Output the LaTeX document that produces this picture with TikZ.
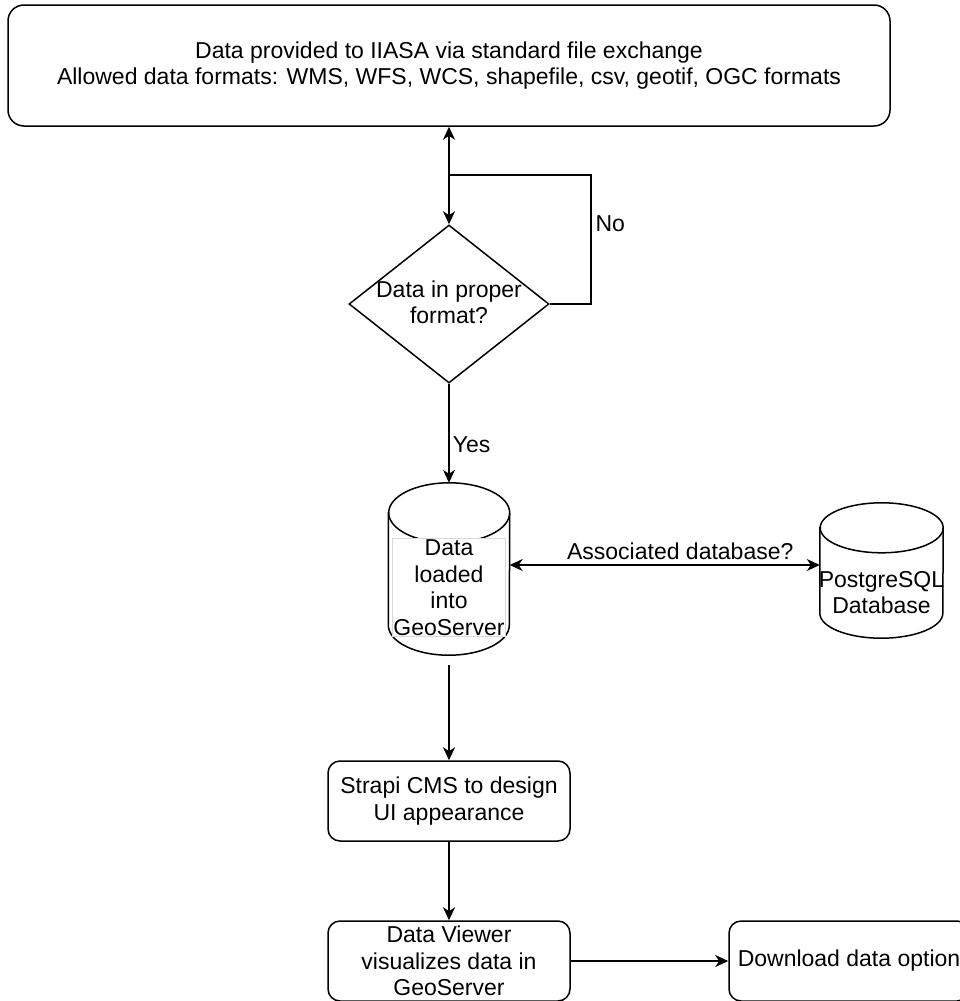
\documentclass[tikz,border=0pt]{standalone}
\usepackage{fontspec}
\setmainfont{Liberation Sans}
\usetikzlibrary{shapes.geometric,arrows.meta,positioning,backgrounds}

\tikzset{
    base/.style={draw, line width=1.5pt, font=\fontsize{23}{26.5}\selectfont, align=center},
    procbox/.style={base, rounded corners=12pt, minimum width=242pt, minimum height=80pt, inner sep=2pt},
    decision/.style={base, diamond, minimum width=200pt, minimum height=158pt, inner sep=0pt},
    dbase/.style={inner sep=0pt},
    txt/.style={font=\fontsize{23}{26.5}\selectfont, align=center, inner sep=1pt},
    line/.style={line width=1.5pt},
    flow/.style={line, -{Stealth[length=13pt,width=12pt,inset=4pt]}},
    twoway/.style={line, {Stealth[length=13pt,width=12pt,inset=4pt]}-{Stealth[length=13pt,width=12pt,inset=4pt]}}
}

% cylinder outline round a node: name, x radius, y radius
\newcommand{\drawdb}[3]{%
    \draw[line, fill=white] ([yshift=-#3]#1.north west) -- ([yshift=#3]#1.south west) arc (180:360:#2 and #3)
        -- ([yshift=-#3]#1.north east) arc (0:180:#2 and #3) -- cycle;
    \draw[line] ([yshift=-#3]#1.north east) arc (0:-180:#2 and #3);
}

\begin{document}
\begin{tikzpicture}[x=1pt, y=-1pt]
    \useasboundingbox (0,0) rectangle (960,1001);

    \node[procbox, minimum width=882pt, minimum height=121pt, rounded corners=16pt] (source) at (449,65.5)
        {Data provided to IIASA via standard file exchange\\Allowed data formats: WMS, WFS, WCS, shapefile, csv, geotif, OGC formats};
    \node[decision, label={[txt, yshift=1.5pt]center:Data in proper\\format?}] (check) at (449,304) {};
    \node[dbase, minimum width=121pt, minimum height=172pt,
        label={[txt, yshift=-18.5pt, fill=white, draw=gray!30, line width=0.5pt]center:Data\\loaded\\into\\GeoServer}] (load) at (449,569) {};
    \node[dbase, minimum width=123pt, minimum height=135pt,
        label={[txt, yshift=-22pt]center:PostgreSQL\\Database}] (pg) at (881.5,570.5) {};
    \node[procbox] (strapi) at (449,801) {Strapi CMS to design\\UI appearance};
    \node[procbox] (viewer) at (449,961) {Data Viewer\\visualizes data in\\GeoServer};
    \node[procbox, minimum width=240pt] (download) at (849,961) {Download data option};

    \begin{scope}[on background layer]
        \drawdb{load}{60.5pt}{30pt}
        \drawdb{pg}{61.5pt}{25pt}
    \end{scope}

    \coordinate (loopend) at (449,175);

    % check loop
    \draw[twoway] (source) -- (check);
    \draw[line] (check.east) -- ++(41,0) -- node[txt, pos=0.62, right=3pt] {No} ++(0,-129) -- (loopend);
    \draw[flow] (check) -- node[txt, pos=0.62, right=2pt] {Yes} (load);

    % database link
    \draw[twoway] ([yshift=4pt]load.east) -- node[txt, pos=0.55, above=4pt] {Associated database?} ([yshift=4pt]load.east -| pg.west);

    \draw[flow] ([yshift=-10pt]load.south) -- (strapi);
    \draw[flow] (strapi) -- (viewer);
    \draw[flow] (viewer) -- (download);
\end{tikzpicture}
\end{document}
